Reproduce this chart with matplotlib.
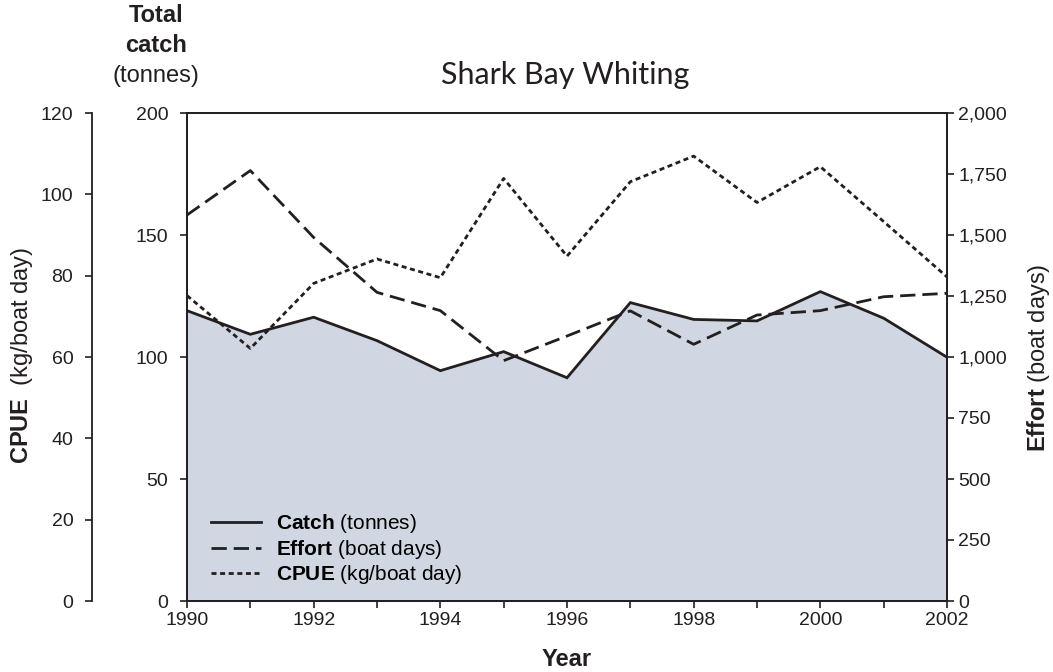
import matplotlib
matplotlib.use("Agg")
import matplotlib.pyplot as plt
from matplotlib.ticker import MultipleLocator, FuncFormatter

plt.rcParams['font.family'] = ['Liberation Sans', 'DejaVu Sans']
plt.rcParams['mathtext.fontset'] = 'custom'
plt.rcParams['mathtext.rm'] = 'Liberation Sans'
plt.rcParams['mathtext.bf'] = 'Liberation Sans:bold'

# data
years = [1990, 1991, 1992, 1993, 1994, 1995, 1996, 1997, 1998, 1999, 2000, 2001, 2002]
catch = [119.0, 109.3, 116.3, 106.7, 94.4, 102.2, 91.5, 122.3, 115.4, 114.8, 126.8, 115.9, 99.9]
effort = [1582, 1764, 1490, 1265, 1190, 985, 1086, 1189, 1052, 1172, 1190, 1247, 1261]
cpue = [75.1, 62.1, 78.1, 84.1, 79.5, 103.9, 84.8, 103.1, 109.4, 98.0, 106.8, 93.3, 79.7]

INK = '#231f20'
FILL = '#d0d6e2'
FS = 14      # tick labels
LFS = 17     # axis labels

fig = plt.figure(figsize=(10.53, 6.72), dpi=100)
ax = fig.add_axes([187 / 1053, 71 / 672, 760 / 1053, 488 / 672])
ax2 = ax.twinx()
ax3 = ax.twinx()

# catch: shaded area + solid line
ax.fill_between(years, catch, 0, color=FILL, lw=0)
l1, = ax.plot(years, catch, color=INK, lw=2.0, solid_joinstyle='miter')
ax.set_xlim(1990, 2002)
ax.set_ylim(0, 200)
ax.yaxis.set_major_locator(MultipleLocator(50))
ax.xaxis.set_major_locator(MultipleLocator(2))
ax.xaxis.set_minor_locator(MultipleLocator(1))

# effort on the right
l2, = ax2.plot(years, effort, color=INK, lw=2.0, dashes=(5.5, 2.5))
ax2.set_ylim(0, 2000)
ax2.yaxis.set_major_locator(MultipleLocator(250))
ax2.yaxis.set_major_formatter(FuncFormatter(lambda v, p: f"{v:,.0f}"))

# CPUE on an outer left axis
l3, = ax3.plot(years, cpue, color=INK, lw=2.0, dashes=(1.8, 1.3))
ax3.set_ylim(0, 120)
ax3.yaxis.set_major_locator(MultipleLocator(20))
ax3.yaxis.set_ticks_position('left')
ax3.yaxis.set_label_position('left')
ax3.spines['left'].set_position(('outward', 95 * 72 / 100))
for s in ['right', 'top', 'bottom']:
    ax3.spines[s].set_visible(False)

for a in (ax, ax2, ax3):
    for s in a.spines.values():
        s.set_color(INK)
        s.set_linewidth(1.3)
    a.tick_params(which='both', direction='out', length=5, width=1.2,
                  color=INK, labelcolor=INK, labelsize=FS)
ax.tick_params(axis='x', which='both', pad=3)
ax.tick_params(axis='y', pad=8.5)
ax3.tick_params(axis='y', pad=8.5)
ax2.tick_params(axis='y', pad=3)

handles = [l1, l2, l3]
labels = [r"$\mathbf{Catch}$ (tonnes)", r"$\mathbf{Effort}$ (boat days)",
          r"$\mathbf{CPUE}$ (kg/boat day)"]
ax3.legend(handles, labels, loc='lower left', bbox_to_anchor=(0.012, 0.0),
           frameon=False, fontsize=15, handlelength=2.4, handletextpad=0.75,
           labelspacing=0.12, borderaxespad=0.3)

# titles and axis labels
fig.text(565 / 1053, 1 - 75 / 672, "Shark Bay Whiting", family='Lato',
         fontsize=22, color=INK, ha='center', va='center')
fig.text(156 / 1053, 1 - 16 / 672, "Total", fontsize=LFS, fontweight='bold',
         color=INK, ha='center', va='center')
fig.text(156 / 1053, 1 - 46 / 672, "catch", fontsize=LFS, fontweight='bold',
         color=INK, ha='center', va='center')
fig.text(156 / 1053, 1 - 76 / 672, "(tonnes)", fontsize=LFS,
         color=INK, ha='center', va='center')
fig.text(567 / 1053, 1 - 660 / 672, "Year", fontsize=LFS, fontweight='bold',
         color=INK, ha='center', va='center')
fig.text(22 / 1053, 1 - 355 / 672, r"$\mathbf{CPUE}$  (kg/boat day)", fontsize=LFS,
         color=INK, ha='center', va='center', rotation=90)
fig.text(1039 / 1053, 1 - 358 / 672, r"$\mathbf{Effort}$ (boat days)", fontsize=LFS,
         color=INK, ha='center', va='center', rotation=90)

fig.savefig("out.png", dpi=100)
